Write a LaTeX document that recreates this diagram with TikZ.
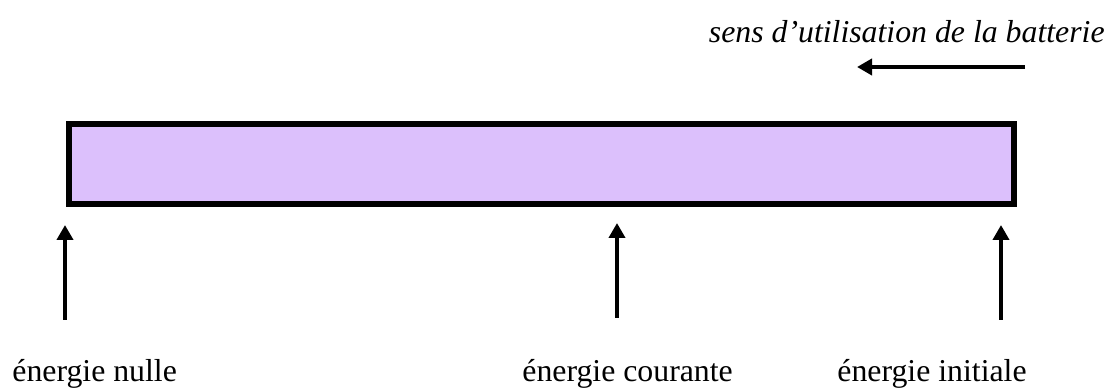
\documentclass[tikz,border=0pt]{standalone}
\usepackage{fontspec}
\setmainfont{Liberation Serif}
\usepackage{xcolor}
\usetikzlibrary{arrows.meta}
\definecolor{lilas}{RGB}{220,192,252}

\begin{document}
\begin{tikzpicture}[x=0.5pt,y=-0.5pt,
  font=\fontsize{15.9}{19}\selectfont,
  batterie/.style={draw=black,fill=lilas,line width=3pt,inner sep=0pt,
    minimum width=472.5pt,minimum height=40pt},
  fleche/.style={-{Triangle[length=7.5pt,width=8pt]},line width=2pt},
  etiquette/.style={inner sep=0pt,anchor=base west}]
\useasboundingbox (0,0) rectangle (1114,389);
% la batterie
\node[batterie] (bar) at (541.5,164) {};
% sens d'utilisation
\node[inner sep=0pt,anchor=base east] (sens) at (1105,43) {\itshape sens d’utilisation de la batterie};
\coordinate (sensA) at (1025,67);
\coordinate (sensB) at (857,67);
\draw[fleche] (sensA) -- (sensB);
% les trois niveaux
\coordinate (nulA) at (65,320);
\coordinate (nulB) at (65,225);
\coordinate (courA) at (617,318);
\coordinate (courB) at (617,223);
\coordinate (initA) at (1001,320);
\coordinate (initB) at (1001,225);
\draw[fleche] (nulA) -- (nulB);
\draw[fleche] (courA) -- (courB);
\draw[fleche] (initA) -- (initB);
\node[etiquette] (nul) at (12,382) {énergie nulle};
\node[etiquette] (cour) at (522,382) {énergie courante};
\node[etiquette] (init) at (837,382) {énergie initiale};
\end{tikzpicture}
\end{document}
